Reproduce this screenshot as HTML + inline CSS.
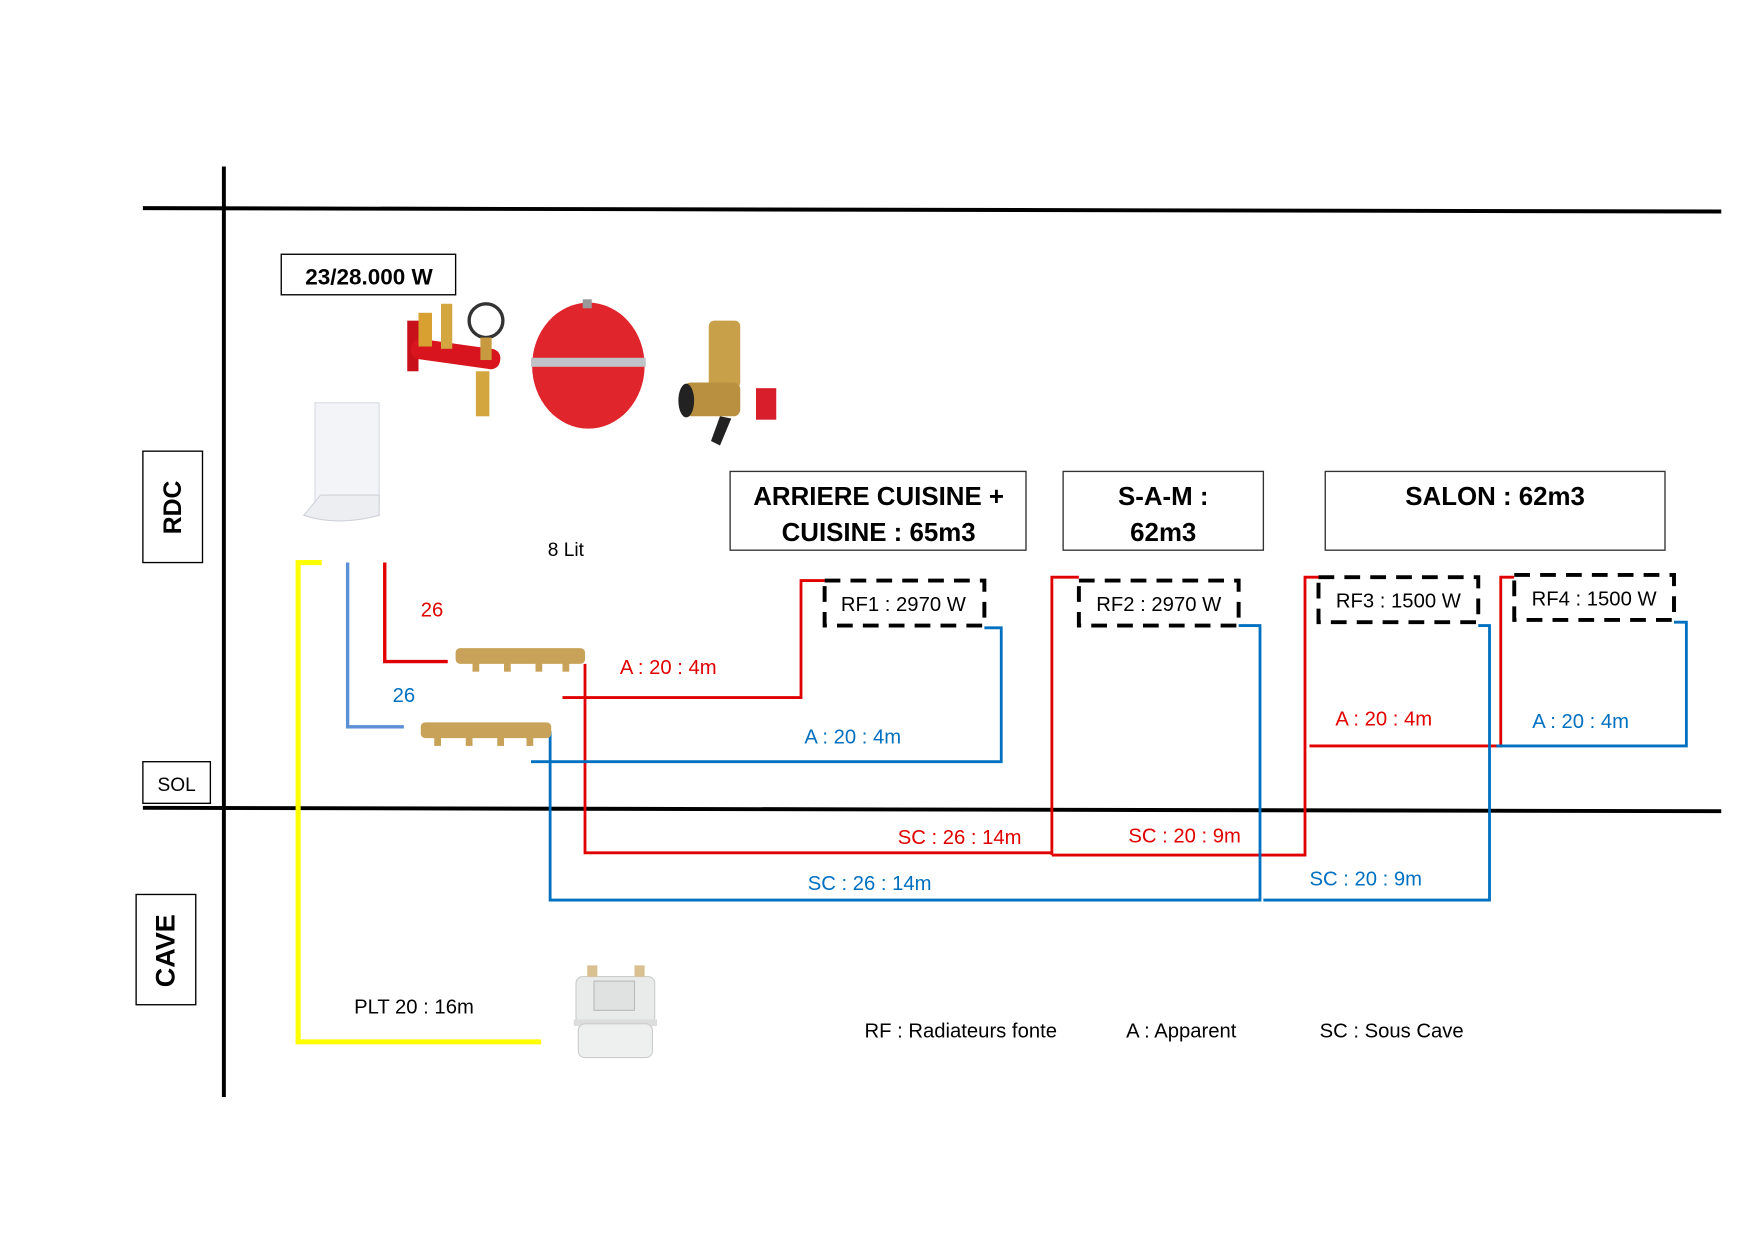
<!DOCTYPE html>
<html><head><meta charset="utf-8"><style>
html,body{margin:0;padding:0;background:#fff;}
svg{display:block;}
text{font-family:"Liberation Sans",sans-serif;}
.b{font-weight:bold;}
.r{fill:#e00000;}
.bl{fill:#0070c0;}
</style></head><body>
<svg width="1755" height="1241" viewBox="0 0 1560 1103" preserveAspectRatio="none" xmlns="http://www.w3.org/2000/svg">
<rect width="1560" height="1103" fill="#fff"/>
<!-- structure lines -->
<line x1="127" y1="185" x2="1530" y2="188" stroke="#000" stroke-width="3.5"/>
<line x1="127" y1="718" x2="1530" y2="721" stroke="#000" stroke-width="3.5"/>
<line x1="199" y1="148" x2="199" y2="975" stroke="#000" stroke-width="3.5"/>
<!-- side labels -->
<rect x="127" y="401" width="53" height="99" fill="#fff" stroke="#000" stroke-width="1.2"/>
<text x="0" y="0" class="b" font-size="22" text-anchor="middle" transform="translate(161,451) rotate(-90)">RDC</text>
<rect x="127" y="677" width="60" height="37" fill="#fff" stroke="#000" stroke-width="1.2"/>
<text x="157" y="703" font-size="17" text-anchor="middle">SOL</text>
<rect x="121" y="795" width="53" height="98" fill="#fff" stroke="#000" stroke-width="1.2"/>
<text x="0" y="0" class="b" font-size="24" text-anchor="middle" transform="translate(155,845) rotate(-90)">CAVE</text>
<!-- power -->
<rect x="250" y="226" width="155" height="36" fill="#fff" stroke="#000" stroke-width="1.2"/>
<text x="328" y="253" class="b" font-size="20" text-anchor="middle">23/28.000 W</text>
<!-- boiler -->
<rect x="280" y="358" width="57" height="92" fill="#f3f4f7" stroke="#d8dbe2"/>
<path d="M270 458 L285 440 L337 440 L337 458 Q300 468 270 458Z" fill="#eceef2" stroke="#d0d3da"/>
<!-- safety group -->
<rect x="362" y="285" width="10" height="45" fill="#c8101a"/>
<rect x="365" y="305" width="80" height="18" rx="8" fill="#d8141e" transform="rotate(8 400 314)"/>
<rect x="372" y="278" width="12" height="30" fill="#d8a030"/>
<rect x="392" y="270" width="10" height="40" fill="#d4a640"/>
<circle cx="432" cy="285" r="15" fill="#fff" stroke="#333" stroke-width="3"/>
<rect x="427" y="300" width="10" height="20" fill="#c89a40"/>
<rect x="423" y="330" width="12" height="40" fill="#d4a640"/>
<!-- expansion tank -->
<ellipse cx="523" cy="325" rx="50" ry="56" fill="#e0262c"/>
<rect x="472" y="318" width="102" height="8" fill="#c0c4c8"/>
<rect x="518" y="266" width="8" height="8" fill="#999"/>
<!-- valve -->
<rect x="630" y="285" width="28" height="60" rx="5" fill="#c9a04a"/>
<rect x="608" y="340" width="50" height="30" rx="6" fill="#b8903f"/>
<ellipse cx="610" cy="356" rx="7" ry="15" fill="#222"/>
<rect x="672" y="345" width="18" height="28" fill="#d81e2a"/>
<path d="M640 370 L632 392 L640 396 L650 372Z" fill="#222"/>
<text x="503" y="494" font-size="17" text-anchor="middle">8 Lit</text>
<!-- room boxes -->
<rect x="649" y="419" width="263" height="70" fill="#fff" stroke="#333" stroke-width="1.2"/>
<text x="781" y="449" class="b" font-size="23" text-anchor="middle">ARRIERE CUISINE +</text>
<text x="781" y="481" class="b" font-size="23" text-anchor="middle">CUISINE : 65m3</text>
<rect x="945" y="419" width="178" height="70" fill="#fff" stroke="#333" stroke-width="1.2"/>
<text x="1034" y="449" class="b" font-size="23" text-anchor="middle">S-A-M :</text>
<text x="1034" y="481" class="b" font-size="23" text-anchor="middle">62m3</text>
<rect x="1178" y="419" width="302" height="70" fill="#fff" stroke="#333" stroke-width="1.2"/>
<text x="1329" y="449" class="b" font-size="23" text-anchor="middle">SALON : 62m3</text>
<!-- pipes -->
<g fill="none" stroke-linejoin="miter">
<polyline points="286,500 265,500 265,926 481,926" stroke="#ffff00" stroke-width="4.5"/>
<polyline points="309,500 309,646 359,646" stroke="#5b8fd6" stroke-width="3"/>
<polyline points="342,500 342,588 398,588" stroke="#e00000" stroke-width="3"/>
<g stroke="#e00000" stroke-width="2.5">
<polyline points="520,590 520,758 935,758"/>
<polyline points="500,620 712,620 712,516 733,516"/>
<polyline points="935,760 935,513 959,513"/>
<polyline points="935,760 1160,760 1160,513 1172,513"/>
<polyline points="1164,663 1334,663 1334,513 1346,513"/>
</g>
<g stroke="#0070c0" stroke-width="2.5">
<polyline points="472,677 890,677 890,558 875,558"/>
<polyline points="489,650 489,800 1120,800 1120,556 1101,556"/>
<polyline points="1123,800 1324,800 1324,556 1314,556"/>
<polyline points="1330,663 1499,663 1499,553 1488,553"/>
</g>
</g>
<!-- manifolds -->
<g fill="#c9a25a">
<rect x="405" y="576" width="115" height="14" rx="4"/>
<rect x="420" y="588" width="6" height="9"/><rect x="448" y="588" width="6" height="9"/><rect x="476" y="588" width="6" height="9"/><rect x="500" y="588" width="6" height="9"/>
<rect x="374" y="642" width="116" height="14" rx="4"/>
<rect x="386" y="654" width="6" height="9"/><rect x="414" y="654" width="6" height="9"/><rect x="442" y="654" width="6" height="9"/><rect x="468" y="654" width="6" height="9"/>
</g>
<text x="384" y="548" class="r" font-size="18" text-anchor="middle">26</text>
<text x="359" y="624" class="bl" font-size="18" text-anchor="middle">26</text>
<!-- radiators -->
<g fill="#fff" stroke="#000" stroke-width="3.5" stroke-dasharray="14 9">
<rect x="733" y="516" width="142" height="40"/>
<rect x="959" y="516" width="142" height="40"/>
<rect x="1172" y="513" width="142" height="40"/>
<rect x="1346" y="511" width="142" height="40"/>
</g>
<text x="803" y="543" font-size="18" text-anchor="middle">RF1 : 2970 W</text>
<text x="1030" y="543" font-size="18" text-anchor="middle">RF2 : 2970 W</text>
<text x="1243" y="540" font-size="18" text-anchor="middle">RF3 : 1500 W</text>
<text x="1417" y="538" font-size="18" text-anchor="middle">RF4 : 1500 W</text>
<!-- pipe labels -->
<text x="594" y="599" class="r" font-size="18" text-anchor="middle">A : 20 : 4m</text>
<text x="758" y="661" class="bl" font-size="18" text-anchor="middle">A : 20 : 4m</text>
<text x="1230" y="645" class="r" font-size="18" text-anchor="middle">A : 20 : 4m</text>
<text x="1405" y="647" class="bl" font-size="18" text-anchor="middle">A : 20 : 4m</text>
<text x="853" y="750" class="r" font-size="18" text-anchor="middle">SC : 26 : 14m</text>
<text x="1053" y="749" class="r" font-size="18" text-anchor="middle">SC : 20 : 9m</text>
<text x="773" y="791" class="bl" font-size="18" text-anchor="middle">SC : 26 : 14m</text>
<text x="1214" y="787" class="bl" font-size="18" text-anchor="middle">SC : 20 : 9m</text>
<text x="368" y="901" font-size="18" text-anchor="middle">PLT 20 : 16m</text>
<!-- gas meter -->
<rect x="512" y="868" width="70" height="42" rx="6" fill="#e9ebea" stroke="#ccc"/>
<rect x="510" y="906" width="74" height="6" fill="#ddd"/>
<rect x="514" y="910" width="66" height="30" rx="6" fill="#eef0ef" stroke="#ccc"/>
<rect x="528" y="872" width="36" height="26" fill="#dfe2e0" stroke="#bbb"/>
<rect x="522" y="858" width="9" height="10" fill="#d8c090"/><rect x="564" y="858" width="9" height="10" fill="#d8c090"/>
<!-- legend -->
<text x="854" y="922" font-size="18" text-anchor="middle">RF : Radiateurs fonte</text>
<text x="1050" y="922" font-size="18" text-anchor="middle">A : Apparent</text>
<text x="1237" y="922" font-size="18" text-anchor="middle">SC : Sous Cave</text>
</svg>
</body></html>
